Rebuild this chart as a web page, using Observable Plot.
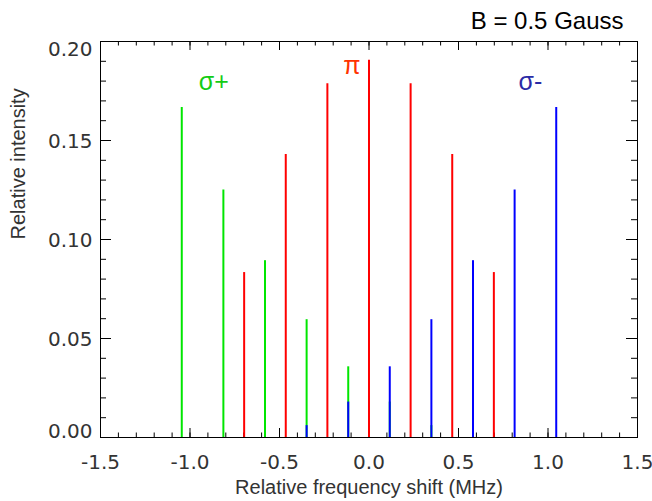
<!DOCTYPE html>
<html><head><meta charset="utf-8">
<script src="https://cdn.jsdelivr.net/npm/d3@7"></script>
<script src="https://cdn.jsdelivr.net/npm/@observablehq/plot@0.6"></script>
<style>body{margin:0;background:#fff}</style>
</head><body><div id="chart"></div>
<script>
// Data
const piShift = [-0.6975, -0.465, -0.2325, 0, 0.2325, 0.465, 0.6975];
const piIntensity = [0.0833, 0.1429, 0.1786, 0.1905, 0.1786, 0.1429, 0.0833];
const sigmaPlusShift = [-1.046, -0.8135, -0.581, -0.3485, -0.116, 0.116, 0.3485];
const sigmaPlusIntensity = [0.1667, 0.125, 0.0893, 0.0595, 0.0357, 0.0179, 0.006];
const sigmaMinusShift = [-0.3485, -0.116, 0.116, 0.3485, 0.581, 0.8135, 1.046];
const sigmaMinusIntensity = [0.006, 0.0179, 0.0357, 0.0595, 0.0893, 0.125, 0.1667];

const xTicks = [-1.5, -1.0, -0.5, 0, 0.5, 1.0, 1.5];
const xTickLabels = ["-1.5", "-1.0", "-0.5", "0.0", "0.5", "1.0", "1.5"];
const yTicks = [0, 0.05, 0.10, 0.15, 0.20];
const yTickLabels = ["0.00", "0.05", "0.10", "0.15", "0.20"];
const xMinorTicks = d3.range(-15, 16).map(i => i / 10);
const yMinorTicks = d3.range(0, 21).map(i => i / 100);

const seriesLabels = ["σ+", "π", "σ-"];
const seriesLabelX = [-0.867, -0.096, 0.902];
const seriesLabelY = [0.1795, 0.1875, 0.1795];
const seriesLabelColors = ["#14cc14", "#ff3300", "#2b2ba6"];

const title = "B = 0.5 Gauss";
const xTitle = "Relative frequency shift (MHz)";
const yTitle = "Relative intensity";

// Build tables
const zip = (xs, ys) => xs.map((x, i) => ({shift: x, intensity: ys[i]}));
const piLines = zip(piShift, piIntensity);
const sigmaPlusLines = zip(sigmaPlusShift, sigmaPlusIntensity);
const sigmaMinusLines = zip(sigmaMinusShift, sigmaMinusIntensity);
const labels = seriesLabels.map((t, i) => ({t, x: seriesLabelX[i], y: seriesLabelY[i], c: seriesLabelColors[i]}));
const xLab = new Map(xTicks.map((d, i) => [d, xTickLabels[i]]));
const yLab = new Map(yTicks.map((d, i) => [d, yTickLabels[i]]));

const W = 652, H = 501, mL = 100, mR = 15, mT = 41, mB = 64;
const iw = W - mL - mR, ih = H - mT - mB;
const tickFont = {fontFamily: "DejaVu Sans", fontSize: 20, fill: "#333"};

const chart = Plot.plot({
  width: W, height: H,
  marginLeft: mL, marginRight: mR, marginTop: mT, marginBottom: mB,
  style: {background: "#fff", color: "#000"},
  x: {domain: [-1.5, 1.5]},
  y: {domain: [0, 0.2]},
  marks: [
    // minor and major ticks (inward)
    Plot.ruleX(xMinorTicks, {stroke: "#000", insetTop: ih - 4.5}),
    Plot.ruleX(xMinorTicks, {stroke: "#000", insetBottom: ih - 4.5}),
    Plot.ruleX(xTicks, {stroke: "#000", insetTop: ih - 9}),
    Plot.ruleX(xTicks, {stroke: "#000", insetBottom: ih - 9}),
    Plot.ruleY(yMinorTicks, {stroke: "#000", insetRight: iw - 6}),
    Plot.ruleY(yMinorTicks, {stroke: "#000", insetLeft: iw - 6}),
    Plot.ruleY(yTicks, {stroke: "#000", insetRight: iw - 11}),
    Plot.ruleY(yTicks, {stroke: "#000", insetLeft: iw - 11}),
    // spectral lines
    Plot.ruleX(sigmaPlusLines, {x: "shift", y: "intensity", stroke: "#00e600", strokeWidth: 2}),
    Plot.ruleX(sigmaMinusLines, {x: "shift", y: "intensity", stroke: "#0000ff", strokeWidth: 2}),
    Plot.ruleX(piLines, {x: "shift", y: "intensity", stroke: "#ff0000", strokeWidth: 2}),
    Plot.frame({stroke: "#000"}),
    // axes
    Plot.axisX({ticks: xTicks, tickFormat: d => xLab.get(d), tickSize: 0, tickPadding: 17, label: null, ...tickFont}),
    Plot.axisY({ticks: [0.05, 0.10, 0.15], tickFormat: d => yLab.get(d), tickSize: 0, tickPadding: 8, dy: 1, label: null, ...tickFont}),
    Plot.axisY({ticks: [0.20], tickFormat: d => yLab.get(d), tickSize: 0, tickPadding: 8, dy: 8, label: null, ...tickFont}),
    Plot.axisY({ticks: [0], tickFormat: d => yLab.get(d), tickSize: 0, tickPadding: 8, dy: -6, label: null, ...tickFont}),
    // labels
    Plot.text(labels, {x: "x", y: "y", text: "t", fill: "c", fontFamily: "Liberation Sans", fontSize: 25}),
    Plot.text([title], {text: d => d, frameAnchor: "top-right", textAnchor: "end", lineAnchor: "middle", dx: -14, dy: -20, fontFamily: "Liberation Sans", fontSize: 24, fill: "#000"}),
    Plot.text([xTitle], {text: d => d, frameAnchor: "bottom", lineAnchor: "middle", dy: 50, fontFamily: "Liberation Sans", fontSize: 20, fill: "#333"}),
    Plot.text([yTitle], {text: d => d, frameAnchor: "left", lineAnchor: "middle", rotate: -90, dx: -82, fontFamily: "Liberation Sans", fontSize: 20, fill: "#333"})
  ]
});
document.getElementById("chart").appendChild(chart);
</script>
</body></html>
